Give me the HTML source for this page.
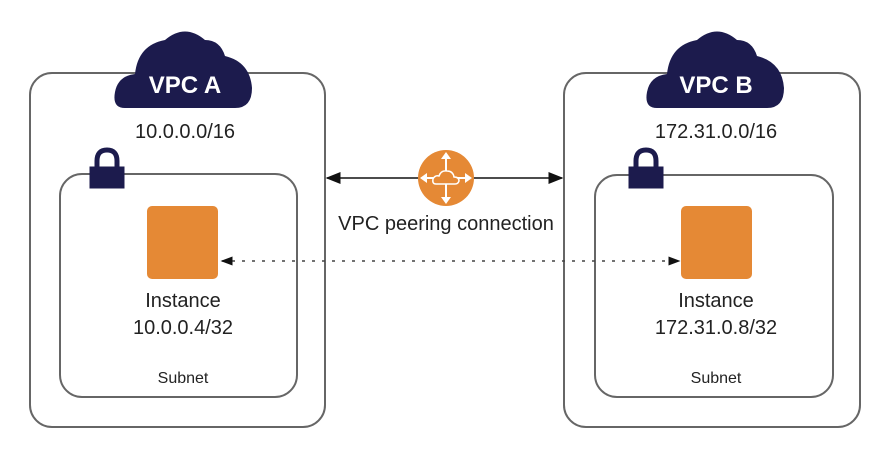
<!DOCTYPE html>
<html><head><style>
body{margin:0;background:#fff;width:890px;height:446px;overflow:hidden}
svg text{font-family:"Liberation Sans",sans-serif;fill:#222}
</style></head><body>
<svg width="890" height="446" viewBox="0 0 890 446">
<defs>
<marker id="a" markerWidth="10" markerHeight="8" refX="9" refY="4" orient="auto-start-reverse"><path d="M0,0L10,4L0,8z" fill="#111"/></marker>
<marker id="s" markerWidth="8" markerHeight="6" refX="7" refY="3" orient="auto-start-reverse"><path d="M0,0L8,3L0,6z" fill="#111"/></marker>
</defs>
<g fill="none" stroke="#666" stroke-width="2">
<rect x="30" y="73" width="295" height="354" rx="22"/>
<rect x="564" y="73" width="296" height="354" rx="22"/>
<rect x="60" y="174" width="237" height="223" rx="22"/>
<rect x="595" y="175" width="238" height="222" rx="22"/>
</g>
<!-- clouds -->
<g fill="#1c1b4d">
<path d="M125,108 Q112,108 115,92 Q118,76 135,74 Q138,45 165,40 Q185,23 205,40 Q220,40 225,56 Q250,62 252,88 Q252,108 235,108 Z"/>
<path d="M657,108 Q644,108 647,92 Q650,76 667,74 Q670,45 697,40 Q717,23 737,40 Q752,40 757,56 Q782,62 784,88 Q784,108 767,108 Z"/>
</g>
<text x="185" y="93" font-size="24" font-weight="bold" text-anchor="middle" style="fill:#fff">VPC A</text>
<text x="716" y="93" font-size="24" font-weight="bold" text-anchor="middle" style="fill:#fff">VPC B</text>
<text x="185" y="138" font-size="20" text-anchor="middle">10.0.0.0/16</text>
<text x="716" y="138" font-size="20" text-anchor="middle">172.31.0.0/16</text>
<!-- locks -->
<g fill="#1c1b4d" stroke="#1c1b4d">
<path d="M97,170 V161 Q97,150 107,150 Q117,150 117,161 V170" fill="none" stroke-width="5"/>
<rect x="90" y="167" width="34" height="21"/>
<path d="M636,170 V161 Q636,150 646,150 Q656,150 656,161 V170" fill="none" stroke-width="5"/>
<rect x="629" y="167" width="34" height="21"/>
</g>
<!-- instances -->
<rect x="147" y="206" width="71" height="73" rx="5" fill="#e58935"/>
<rect x="681" y="206" width="71" height="73" rx="5" fill="#e58935"/>
<text x="183" y="307" font-size="20" text-anchor="middle">Instance</text>
<text x="183" y="334" font-size="20" text-anchor="middle">10.0.0.4/32</text>
<text x="183" y="383" font-size="16" text-anchor="middle">Subnet</text>
<text x="716" y="307" font-size="20" text-anchor="middle">Instance</text>
<text x="716" y="334" font-size="20" text-anchor="middle">172.31.0.8/32</text>
<text x="716" y="383" font-size="16" text-anchor="middle">Subnet</text>
<!-- connectors -->
<line x1="327" y1="178" x2="562" y2="178" stroke="#111" stroke-width="1.5" marker-start="url(#a)" marker-end="url(#a)"/>
<line x1="222" y1="261" x2="679" y2="261" stroke="#444" stroke-width="1.5" stroke-dasharray="3,7" marker-start="url(#s)" marker-end="url(#s)"/>
<circle cx="446" cy="178" r="28" fill="#e58935"/>
<g stroke="#fff" stroke-width="2" fill="#fff">
<line x1="446" y1="155" x2="446" y2="201"/><line x1="423" y1="178" x2="469" y2="178"/>
<path d="M446,152 l-5,7 h10z M446,204 l-5,-7 h10z M420,178 l7,-5 v10z M472,178 l-7,-5 v10z" stroke="none"/>
</g>
<path d="M436,184 Q432,184 433,179 Q435,175 439,176 Q441,170 447,171 Q453,171 454,177 Q459,177 459,181 Q458,184 455,184 Z" fill="#e58935" stroke="#fff" stroke-width="1.5"/>
<text x="446" y="230" font-size="20" text-anchor="middle">VPC peering connection</text>
</svg>
</body></html>
